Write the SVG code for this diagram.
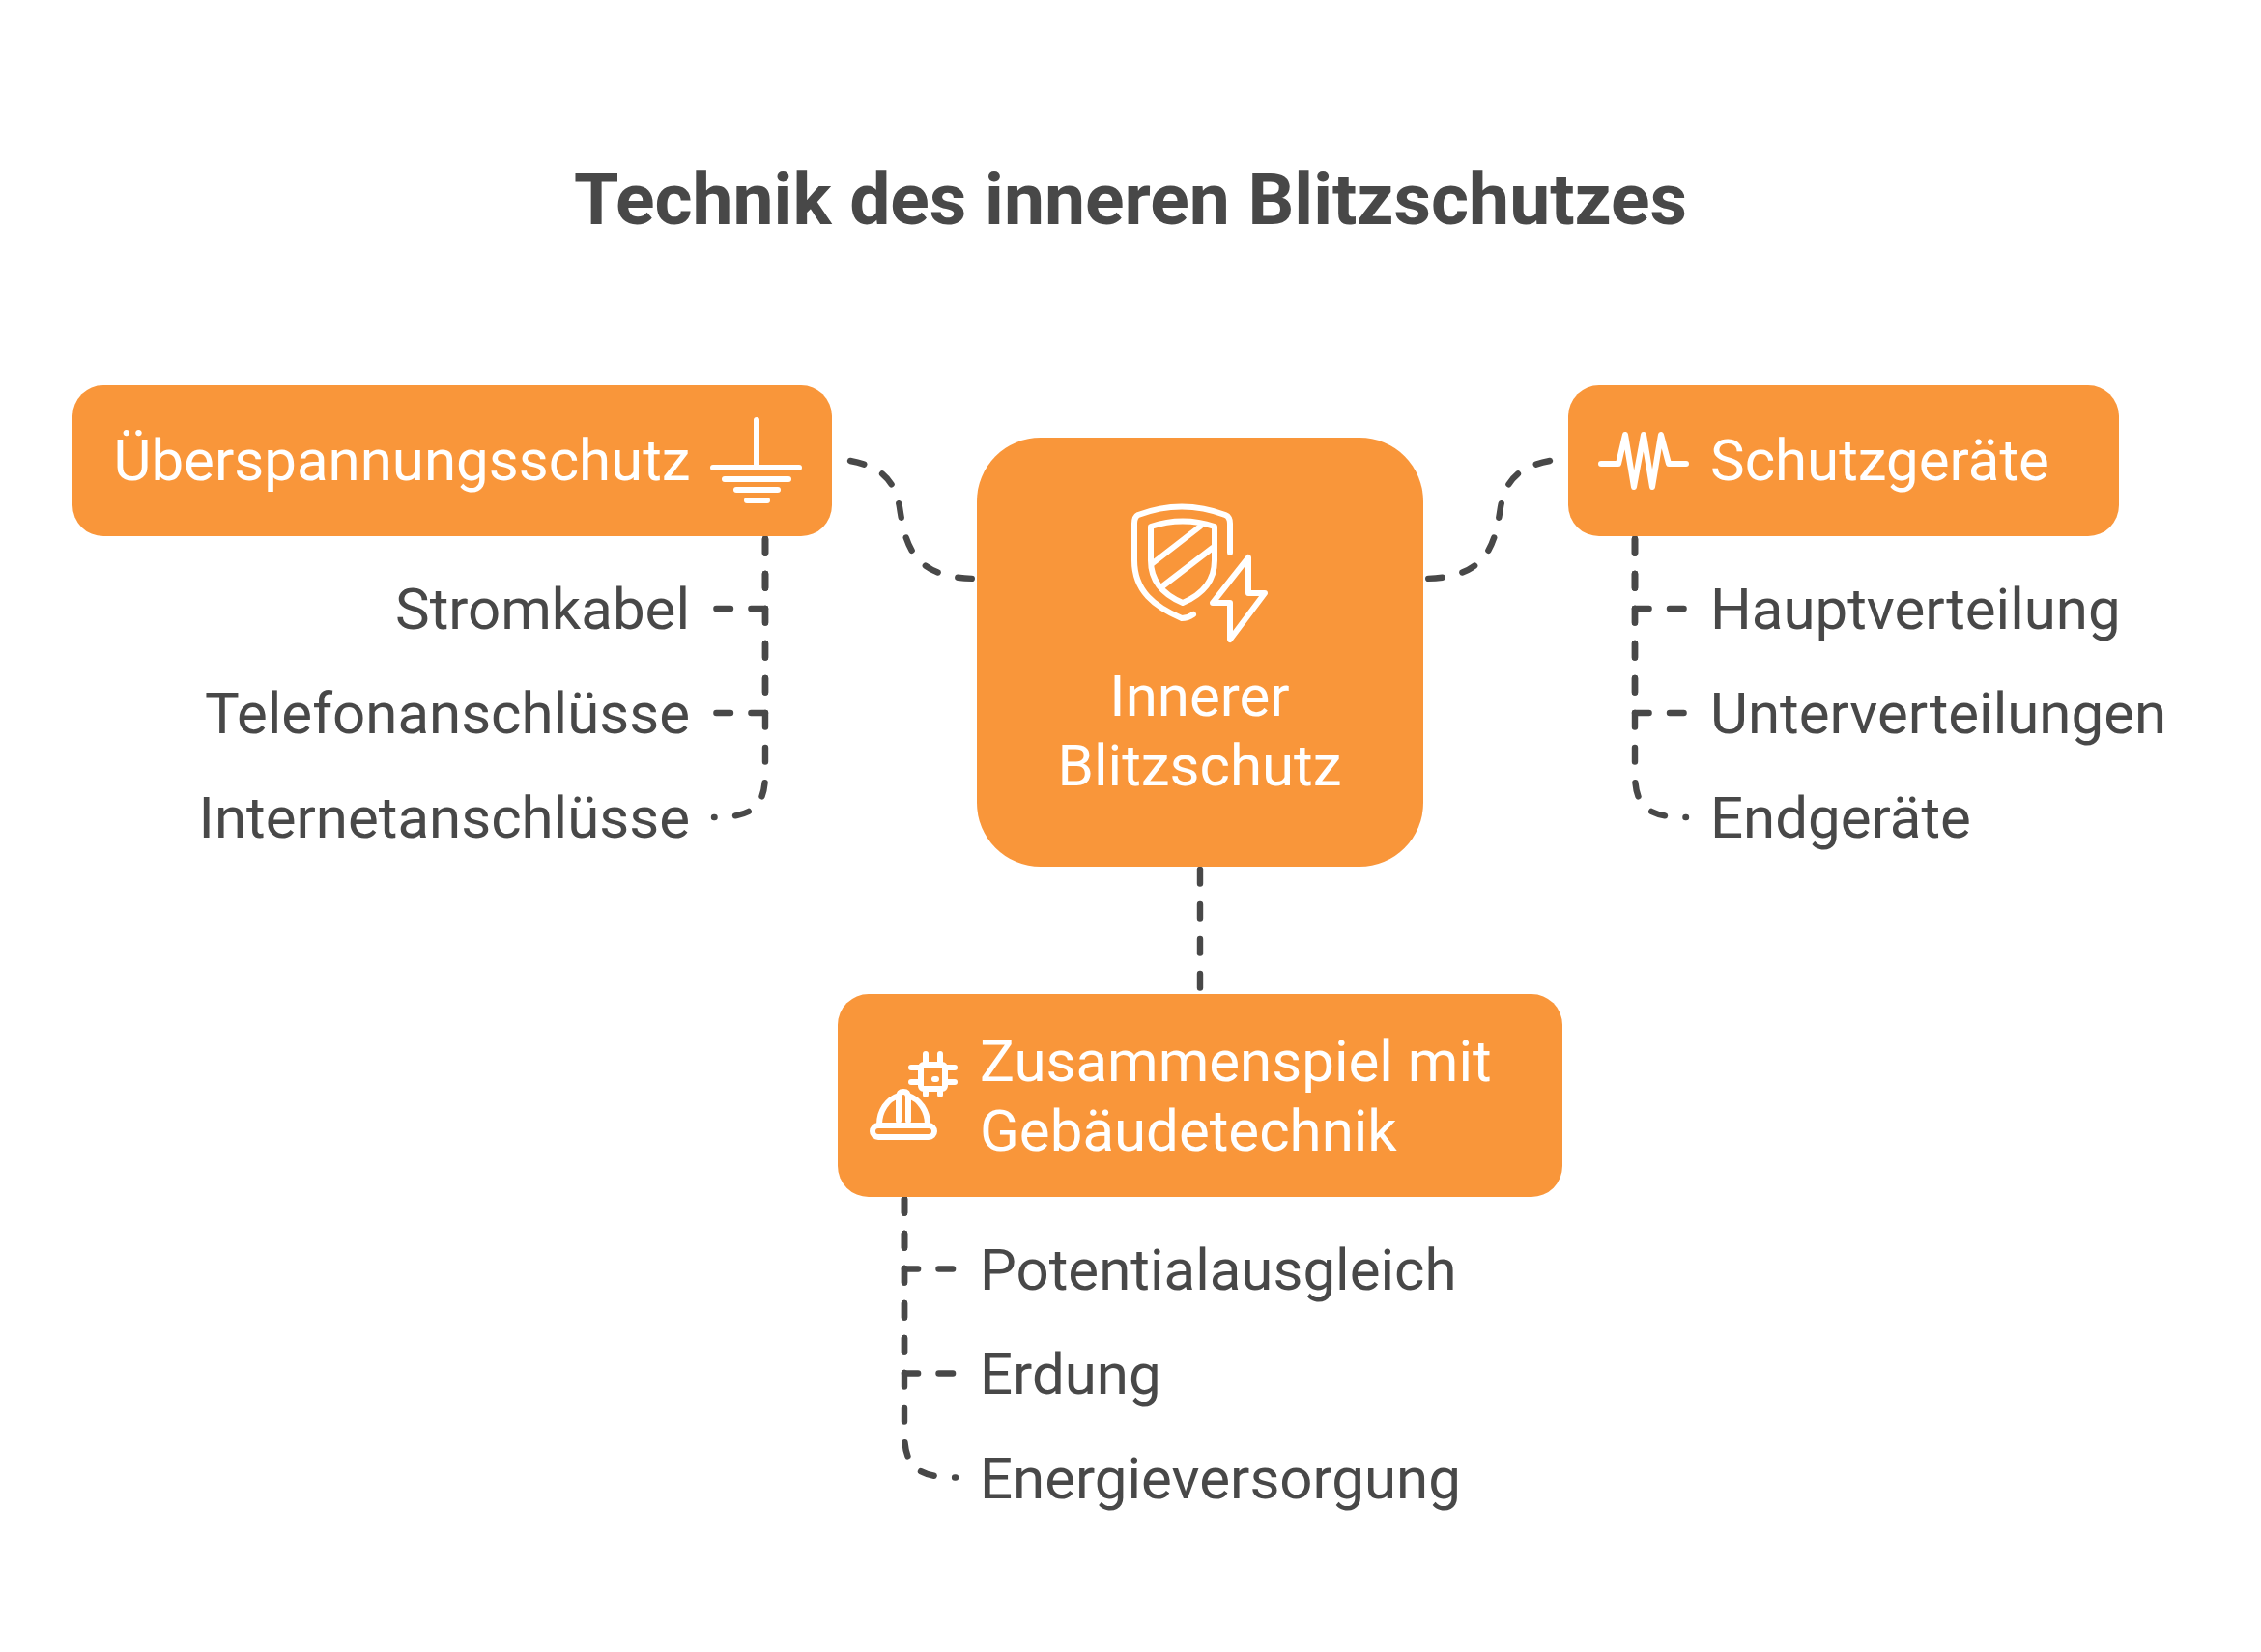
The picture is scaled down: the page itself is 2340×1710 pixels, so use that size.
<svg xmlns="http://www.w3.org/2000/svg" width="2340" height="1710" viewBox="0 0 2340 1710">
<style>
text{font-family:Roboto,"Liberation Sans",sans-serif;font-size:60px}
.t{fill:#484848}.w{fill:#fff}
.box{fill:#F9963A}
.ic{fill:none;stroke:#fff;stroke-width:6;stroke-linecap:round;stroke-linejoin:round}
.c{fill:none;stroke:#484848;stroke-width:6.4;stroke-linecap:round;stroke-linejoin:round;stroke-dasharray:14.6 21.4}
</style>
<rect width="2340" height="1710" fill="#fff"/>
<text id="title" x="1170" y="232" text-anchor="middle" font-weight="700" style="font-size:75px;fill:#484848">Technik des inneren Blitzschutzes</text>
<g id="connectors">
<path class="c" d="M880 477C912 483 926 497 931 525C937 565 945 599 1012 599"/>
<path class="c" d="M1604 477C1572 483 1558 497 1553 525C1547 565 1539 599 1472 599"/>
<path class="c" d="M1242 900V1028"/>
<path class="c" d="M792 558V630H740"/>
<path class="c" d="M792 558V738H740"/>
<path class="c" d="M792 558V800C792 835 779 846 739 846"/>
<path class="c" d="M1692 558V630H1744"/>
<path class="c" d="M1692 558V738H1744"/>
<path class="c" d="M1692 558V800C1692 835 1705 846 1745 846"/>
<path class="c" d="M936 1241V1313.500H988"/>
<path class="c" d="M936 1241V1421.500H988"/>
<path class="c" d="M936 1241V1483C936 1518 949 1529.500 989 1529.500"/>
</g>
<g id="node-center">
<rect class="box" x="1011" y="453" width="462" height="444" rx="66"/>
<g class="ic">
<path d="M1273 572V542Q1273 535 1268 533Q1223 516 1178 533Q1174 535 1174 542V580C1174 612 1195 628 1223 640Q1229 640 1235 636"/>
<path d="M1191 545Q1224 534 1257 545V580C1257 602 1243 616 1224 624C1205 616 1191 602 1191 580Z"/>
<path d="M1193 583L1242 545M1203 607L1255 567"/>
<path d="M1292 577V614H1309L1273 662V624H1255Z"/>
</g>
<text class="w" x="1241.500" y="741" text-anchor="middle">Innerer</text>
<text class="w" x="1241.500" y="813" text-anchor="middle">Blitzschutz</text>
</g>
<g id="node-ueberspannung">
<rect class="box" x="75" y="399" width="786" height="156" rx="32"/>
<text class="w" x="117.500" y="497">Überspannungsschutz</text>
<g class="ic"><path d="M783 435V484M738 484H827M750 496H816M762 507H805M773 518H794"/></g>
</g>
<g id="node-schutz">
<rect class="box" x="1623" y="399" width="570" height="156" rx="32"/>
<g class="ic"><path d="M1657 480H1675L1682 450L1691 504L1701 450L1710 504L1719 450L1727 480H1745"/></g>
<text class="w" x="1770" y="497">Schutzgeräte</text>
</g>
<g id="node-zusammen">
<rect class="box" x="867" y="1029" width="750" height="210" rx="32"/>
<g class="ic">
<rect x="953" y="1102" width="25" height="25" rx="3"/>
<path d="M958 1091V1102M973 1091V1102M958 1127V1133M973 1127V1133M943 1105H953M943 1120H953M978 1105H988M978 1120H988M967 1117H969"/>
<rect x="903" y="1165" width="64" height="12" rx="6"/>
<path d="M910 1164C910 1150 918 1138 930 1134M960 1164C960 1150 952 1138 940 1134M930 1160V1136Q930 1130 935 1130Q940 1130 940 1136V1160"/>
</g>
<text class="w" x="1014" y="1119">Zusammenspiel mit</text>
<text class="w" x="1014" y="1191">Gebäudetechnik</text>
</g>
<g id="list-left">
<text class="t" x="714" y="651" text-anchor="end">Stromkabel</text>
<text class="t" x="714" y="759" text-anchor="end">Telefonanschlüsse</text>
<text class="t" x="714" y="867" text-anchor="end">Internetanschlüsse</text>
</g>
<g id="list-right">
<text class="t" x="1770" y="651">Hauptverteilung</text>
<text class="t" x="1770" y="759">Unterverteilungen</text>
<text class="t" x="1770" y="867">Endgeräte</text>
</g>
<g id="list-bottom">
<text class="t" x="1014" y="1335">Potentialausgleich</text>
<text class="t" x="1014" y="1443">Erdung</text>
<text class="t" x="1014" y="1551">Energieversorgung</text>
</g>
</svg>
